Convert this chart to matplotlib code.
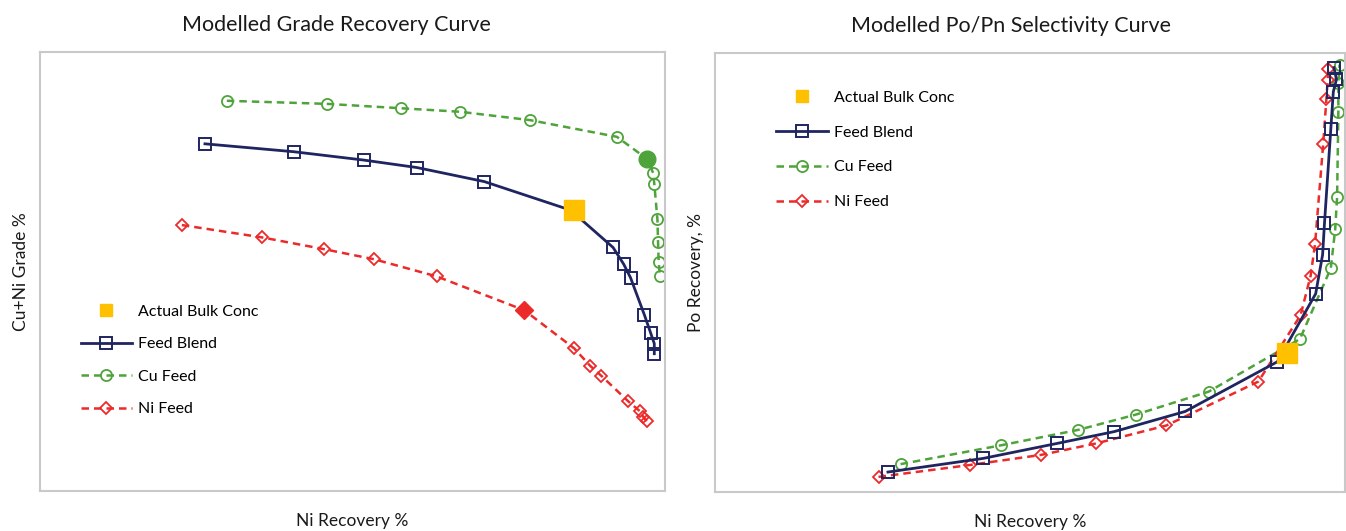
import matplotlib
matplotlib.use("Agg")
import matplotlib.pyplot as plt
from matplotlib.lines import Line2D

plt.rcParams['font.family'] = ['Lato', 'DejaVu Sans']

# Grade recovery curve (no axis scale shown, values in relative units 0-100)
gr_blend_x = [26.4, 40.6, 51.8, 60.3, 71.1, 84.9, 91.7, 93.4, 94.5, 96.7, 97.7, 98.3, 98.3]
gr_blend_y = [79.1, 77.3, 75.4, 73.7, 70.5, 64.0, 55.5, 51.7, 48.6, 40.2, 36.1, 33.6, 31.3]
gr_cu_x = [29.9, 45.9, 57.8, 67.2, 78.4, 92.3, 97.2, 98.1, 98.3, 98.8, 98.9, 99.0, 99.2]
gr_cu_y = [88.9, 88.2, 87.2, 86.4, 84.5, 80.7, 75.6, 72.5, 70.0, 61.9, 56.7, 52.2, 49.0]
gr_ni_x = [22.7, 35.5, 45.5, 53.5, 63.5, 77.5, 85.5, 88.0, 89.8, 94.1, 96.0, 96.5, 97.1]
gr_ni_y = [60.6, 57.8, 55.1, 52.8, 48.9, 41.2, 32.5, 28.6, 26.3, 20.5, 18.2, 17.0, 15.9]
gr_actual = (85.5, 64.0)
gr_cu_point = (97.2, 75.6)
gr_ni_point = (77.5, 41.2)

# Po/Pn selectivity curve
sel_blend_x = [27.5, 42.6, 54.3, 63.4, 74.7, 89.3, 95.4, 96.5, 96.8, 97.8, 98.2, 98.7, 98.3]
sel_blend_y = [4.6, 7.7, 11.1, 13.8, 18.4, 29.7, 45.2, 54.1, 61.3, 82.7, 91.2, 94.0, 96.7]
sel_cu_x = [29.5, 45.5, 57.7, 66.9, 78.4, 92.9, 97.8, 98.5, 98.8, 99.0, 99.0, 99.2]
sel_cu_y = [6.4, 10.7, 14.2, 17.7, 22.9, 34.9, 51.0, 59.9, 67.2, 86.6, 93.2, 97.4]
sel_ni_x = [26.0, 40.5, 51.8, 60.5, 71.7, 86.3, 93.0, 94.6, 95.3, 96.6, 97.1, 97.3, 97.4]
sel_ni_y = [3.5, 6.2, 8.5, 11.1, 15.2, 25.2, 40.3, 49.3, 56.5, 79.4, 89.5, 93.8, 96.3]
sel_actual = (90.8, 31.8)

labels = ["Actual Bulk Conc", "Feed Blend", "Cu Feed", "Ni Feed"]

NAVY = "#1f2560"
GREEN = "#4ea33a"
RED = "#ec2a2a"
ORANGE = "#ffc000"
FRAME = "#c9c9c9"

fig = plt.figure(figsize=(13.46, 5.31), dpi=100)
ax1 = fig.add_axes([0.0297, 0.075, 0.4643, 0.827])
ax2 = fig.add_axes([0.531, 0.073, 0.468, 0.827])

blend_kw = dict(color=NAVY, lw=2.0, marker="s", ms=9, mfc="none", mec=NAVY, mew=1.4)
cu_kw = dict(color=GREEN, lw=1.8, ls=(0, (3, 2)), marker="o", ms=8, mfc="none", mec=GREEN, mew=1.3)
ni_kw = dict(color=RED, lw=1.8, ls=(0, (3, 2)), marker="D", ms=6, mfc="none", mec=RED, mew=1.3)

# left panel
ax1.plot(gr_cu_x, gr_cu_y, **cu_kw)
ax1.plot(gr_ni_x, gr_ni_y, **ni_kw)
ax1.plot(gr_blend_x, gr_blend_y, **blend_kw)
ax1.plot(*gr_cu_point, marker="o", ms=12, color=GREEN, ls="none")
ax1.plot(*gr_ni_point, marker="D", ms=9, color=RED, ls="none")
ax1.plot(*gr_actual, marker="s", ms=14, color=ORANGE, ls="none")

# right panel
ax2.plot(sel_cu_x, sel_cu_y, **cu_kw)
ax2.plot(sel_ni_x, sel_ni_y, **ni_kw)
ax2.plot(sel_blend_x, sel_blend_y, **blend_kw)
ax2.plot(*sel_actual, marker="s", ms=14, color=ORANGE, ls="none")

handles = [
    Line2D([], [], ls="none", marker="s", ms=8, color=ORANGE),
    Line2D([], [], **blend_kw),
    Line2D([], [], **cu_kw),
    Line2D([], [], **ni_kw),
]

for ax, title, ylab, anchor, spacing, tx in [
    (ax1, "Modelled Grade Recovery Curve", "Cu+Ni Grade %", (0.065, 0.425), 1.15, 0.475),
    (ax2, "Modelled Po/Pn Selectivity Curve", "Po Recovery, %", (0.098, 0.915), 1.3, 0.47),
]:
    ax.set_xlim(0, 100)
    ax.set_ylim(0, 100)
    ax.set_xticks([])
    ax.set_yticks([])
    for s in ax.spines.values():
        s.set_color(FRAME)
        s.set_linewidth(1.5)
    ax.set_title(title, fontsize=15.5, pad=15, color="#1a1a1a", x=tx)
    ax.set_xlabel("Ni Recovery %", fontsize=12.5, labelpad=16, color="#1a1a1a")
    ax.set_ylabel(ylab, fontsize=12.5, labelpad=8, color="#1a1a1a")
    ax.legend(handles, labels, loc="upper left", bbox_to_anchor=anchor, frameon=False,
              fontsize=11.5, labelspacing=spacing, handlelength=3.2, handletextpad=0.4,
              borderpad=0, borderaxespad=0)

fig.savefig("out.png", dpi=100)
